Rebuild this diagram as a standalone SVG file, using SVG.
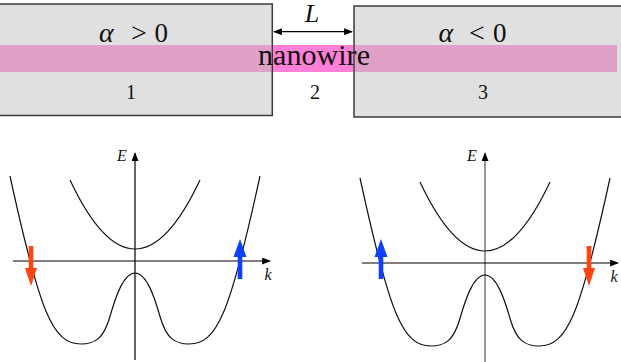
<svg xmlns="http://www.w3.org/2000/svg" width="621" height="362" viewBox="0 0 621 362">
<style>
.box{fill:#e0e0e0;stroke:none}
.outline{fill:none;stroke:#3a3a3a;stroke-width:1.5}
.serif{font-family:"Liberation Serif","DejaVu Serif",serif;fill:#111}
.it{font-style:italic}
.curve{fill:none;stroke:#111;stroke-width:1.2}
.axis{fill:none;stroke:#000;stroke-width:1.2}
.red{fill:#ff4410}
.blue{fill:#1040ff}
</style>
<defs>
<marker id="ah" viewBox="0 0 10 8" refX="9" refY="4" markerWidth="9" markerHeight="7" markerUnits="userSpaceOnUse" orient="auto">
<path d="M0,0 L10,4 L0,8 z" fill="#000"/>
</marker>
<marker id="ahs" viewBox="0 0 10 8" refX="9" refY="4" markerWidth="10" markerHeight="7" markerUnits="userSpaceOnUse" orient="auto-start-reverse">
<path d="M0,0 L10,4 L0,8 z" fill="#000"/>
</marker>
<g id="bands">
<path class="curve" d="M-65,-81 Q0,57 65,-81"/>
<path class="curve" d="M-125,-85 C-95,53 -82,83 -54,83 C-40,83 -31.5,77.4 -25.5,57 C-20,38 -12,12 0,12 C12,12 20,38 25.5,57 C31.5,77.4 40,83 54,83 C82,83 95,53 125,-85"/>
</g>
<path id="spinup" d="M0,0 L6.5,18 L2.3,18 L2.3,40 L-2.3,40 L-2.3,18 L-6.5,18 z"/>
<path id="spindown" d="M0,40 L6,22 L2.3,22 L2.3,0 L-2.3,0 L-2.3,22 L-6,22 z"/>
</defs>

<g id="region1">
<rect class="box" x="-5" y="4" width="277.3" height="111.5"/>
</g>
<g id="region3">
<rect class="box" x="354" y="6" width="275" height="111"/>
</g>
<g id="nanowire">
<rect x="0" y="45" width="271.5" height="27" fill="#e0a0c8"/>
<rect x="273" y="45" width="80.3" height="27" fill="#ff80d6"/>
<rect x="354.8" y="45" width="262.2" height="27" fill="#e0a0c8"/>
</g>
<g id="outlines">
<rect class="outline" x="-5" y="4" width="277.3" height="111.5"/>
<rect class="outline" x="354" y="6" width="275" height="111"/>
</g>
<g id="labels-top">
<text class="serif" font-size="30" x="314" y="65" text-anchor="middle" textLength="112" lengthAdjust="spacingAndGlyphs">nanowire</text>
<text class="serif it" font-size="28" x="99" y="41.5">α</text>
<text class="serif" font-size="28" x="131" y="41.5">&gt;</text>
<text class="serif" font-size="27" x="154.5" y="41.5">0</text>
<text class="serif it" font-size="28" x="438.5" y="41.5">α</text>
<text class="serif" font-size="28" x="469" y="41.5">&lt;</text>
<text class="serif" font-size="27" x="493" y="41.5">0</text>
<text class="serif" font-size="20" x="131" y="99" text-anchor="middle">1</text>
<text class="serif" font-size="20" x="315" y="99" text-anchor="middle">2</text>
<text class="serif" font-size="20" x="483" y="99" text-anchor="middle">3</text>
<text class="serif it" font-size="26" x="312" y="22" text-anchor="middle">L</text>
</g>
<g id="connectors">
<line x1="274" y1="31.7" x2="352" y2="31.7" stroke="#000" stroke-width="1.3" marker-start="url(#ahs)" marker-end="url(#ahs)"/>
</g>

<g id="plot-left" transform="translate(135,261)">
<line class="axis" x1="0" y1="99" x2="0" y2="-108" marker-end="url(#ah)"/>
<line class="axis" x1="-122" y1="0" x2="135" y2="0" marker-end="url(#ah)"/>
<use href="#bands"/>
<text class="serif it" font-size="16" x="-13" y="-100" text-anchor="middle">E</text>
<text class="serif it" font-size="16" x="133" y="19" text-anchor="middle">k</text>
<use href="#spindown" class="red" x="-104" y="-15"/>
<use href="#spinup" class="blue" x="105" y="-22"/>
</g>

<g id="plot-right" transform="translate(485,263)">
<line class="axis" x1="0" y1="99" x2="0" y2="-110" marker-end="url(#ah)" style="stroke:#555"/>
<line class="axis" x1="-123" y1="0" x2="133" y2="0" marker-end="url(#ah)"/>
<use href="#bands"/>
<text class="serif it" font-size="16" x="-13" y="-102" text-anchor="middle">E</text>
<text class="serif it" font-size="16" x="129" y="19" text-anchor="middle">k</text>
<use href="#spinup" class="blue" x="-104" y="-24"/>
<use href="#spindown" class="red" x="104" y="-17"/>
</g>
</svg>
